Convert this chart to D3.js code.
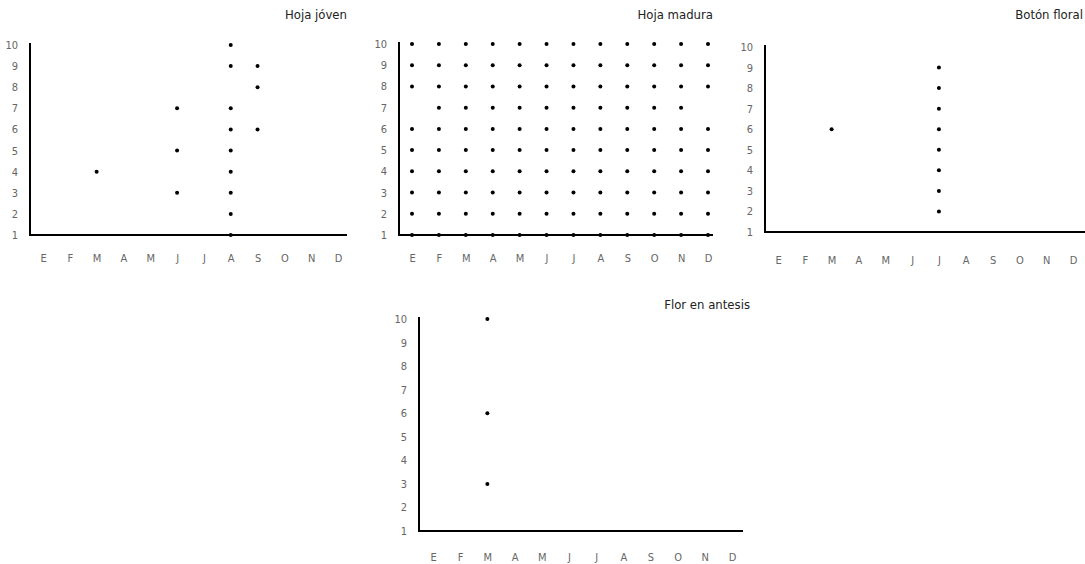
<!DOCTYPE html>
<html>
<head>
<meta charset="utf-8">
<script src="https://cdn.jsdelivr.net/npm/d3@7"></script>
<style>
  body { margin: 0; background: #fff; }
  svg text { font-family: "DejaVu Sans", sans-serif; font-stretch: condensed; }
</style>
</head>
<body>
<svg width="1085" height="564"></svg>
<script>
const months = ["E", "F", "M", "A", "M", "J", "J", "A", "S", "O", "N", "D"];
const yTicks = [1, 2, 3, 4, 5, 6, 7, 8, 9, 10];
const titles = ["Hoja jóven", "Hoja madura", "Botón floral", "Flor en antesis"];

// month index -> values observed
const hojaJoven = [
  [2, [4]],
  [5, [3, 5, 7]],
  [7, [1, 2, 3, 4, 5, 6, 7, 9, 10]],
  [8, [6, 8, 9]]
];
const hojaMadura = [
  [0, [1, 2, 3, 4, 5, 6, 8, 9, 10]],
  [1, [1, 2, 3, 4, 5, 6, 7, 8, 9, 10]],
  [2, [1, 2, 3, 4, 5, 6, 7, 8, 9, 10]],
  [3, [1, 2, 3, 4, 5, 6, 7, 8, 9, 10]],
  [4, [1, 2, 3, 4, 5, 6, 7, 8, 9, 10]],
  [5, [1, 2, 3, 4, 5, 6, 7, 8, 9, 10]],
  [6, [1, 2, 3, 4, 5, 6, 7, 8, 9, 10]],
  [7, [1, 2, 3, 4, 5, 6, 7, 8, 9, 10]],
  [8, [1, 2, 3, 4, 5, 6, 7, 8, 9, 10]],
  [9, [1, 2, 3, 4, 5, 6, 7, 8, 9, 10]],
  [10, [1, 2, 3, 4, 5, 6, 7, 8, 9, 10]],
  [11, [1, 2, 3, 4, 5, 6, 8, 9, 10]]
];
const botonFloral = [
  [2, [6]],
  [6, [2, 3, 4, 5, 6, 7, 8, 9]]
];
const florAntesis = [
  [2, [3, 6, 10]]
];

const panels = [
  { title: titles[0], data: hojaJoven,   axisX: 30,  xEnd: 347,  yBot: 235, yTop: 45,  m0: 43,  m1: 338, labelY: 258, titleX: 347,  titleY: 19 },
  { title: titles[1], data: hojaMadura,  axisX: 399, xEnd: 713,  yBot: 235, yTop: 44,  m0: 412, m1: 708, labelY: 258, titleX: 713,  titleY: 19 },
  { title: titles[2], data: botonFloral, axisX: 765, xEnd: 1085, yBot: 232, yTop: 47,  m0: 778, m1: 1073, labelY: 260, titleX: 1083, titleY: 19 },
  { title: titles[3], data: florAntesis, axisX: 419, xEnd: 743,  yBot: 531, yTop: 319, m0: 433, m1: 732, labelY: 557, titleX: 750,  titleY: 309 }
];

const svg = d3.select('svg');

panels.forEach(p => {
  const g = svg.append('g');

  const x = d3.scalePoint()
    .domain(d3.range(months.length))
    .range([p.m0, p.m1]);
  const y = d3.scaleLinear()
    .domain([1, 10])
    .range([p.yBot, p.yTop]);

  // y tick labels
  const yAxis = g.append('g')
    .attr('transform', 'translate(' + p.axisX + ',0)')
    .call(d3.axisLeft(y).tickValues(yTicks).tickSize(0).tickPadding(12).tickFormat(d3.format('d')));
  yAxis.select('.domain').remove();
  yAxis.selectAll('text').attr('fill', '#666').attr('font-size', 11);

  // month labels
  const xAxis = g.append('g')
    .attr('transform', 'translate(0,' + p.labelY + ')')
    .call(d3.axisBottom(x).tickSize(0).tickPadding(0).tickFormat(i => months[i]));
  xAxis.select('.domain').remove();
  xAxis.selectAll('text').attr('fill', '#666').attr('font-size', 11).attr('dy', '0.35em');

  // axis lines
  g.append('line')
    .attr('x1', p.axisX).attr('x2', p.axisX)
    .attr('y1', p.yTop - 2).attr('y2', p.yBot + 1)
    .attr('stroke', '#000').attr('stroke-width', 2);
  g.append('line')
    .attr('x1', p.axisX - 1).attr('x2', p.xEnd)
    .attr('y1', p.yBot).attr('y2', p.yBot)
    .attr('stroke', '#000').attr('stroke-width', 2);

  // dots
  const pts = [];
  p.data.forEach(([m, vals]) => vals.forEach(v => pts.push({ m, v })));
  g.selectAll('.dot')
    .data(pts)
    .enter()
    .append('circle')
      .classed('dot', true)
      .attr('cx', d => x(d.m))
      .attr('cy', d => y(d.v))
      .attr('r', 2)
      .attr('fill', '#000');

  g.append('text')
    .text(p.title)
    .attr('x', p.titleX)
    .attr('y', p.titleY)
    .attr('text-anchor', 'end')
    .attr('font-size', 13)
    .attr('fill', '#222');
});
</script>
</body>
</html>
